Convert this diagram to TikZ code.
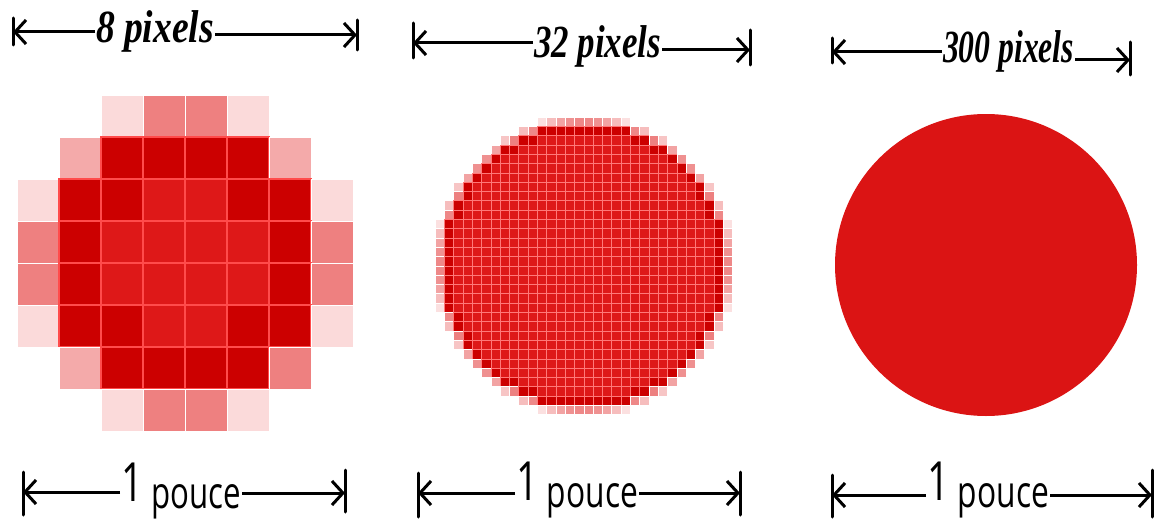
\documentclass[tikz,border=0pt]{standalone}
\usepackage{fontspec}
\usepackage{graphicx}
\usetikzlibrary{arrows.meta,calc}
\newfontfamily\handsans{Open Sans}
\newfontfamily\handserif{Liberation Serif}
\definecolor{pxD}{RGB}{204,0,0}
\definecolor{pxR}{RGB}{222,24,24}
\definecolor{pxM}{RGB}{238,128,128}
\definecolor{pxL}{RGB}{244,170,170}
\definecolor{pxV}{RGB}{251,218,218}
\definecolor{gridred}{RGB}{255,75,75}
\definecolor{gridlt}{RGB}{255,120,120}
\definecolor{circred}{RGB}{219,20,20}
\newcommand{\toplabel}[2]{\resizebox{#1}{\height}{\handserif\fontsize{46}{46}\selectfont\bfseries\itshape #2}}
\newcommand{\botlabel}[1]{\resizebox{#1}{\height}{\handsans\fontsize{44}{44}\selectfont\raisebox{7pt}{\fontsize{54}{54}\selectfont 1}\hspace{12pt}pouce}}
\begin{document}
\begin{tikzpicture}[x=1pt,y=-1pt,
  dimline/.style={line width=3pt,-{Straight Barb[length=11pt,width=24pt]}},
  barline/.style={line width=3pt,line cap=round},
  lab/.style={anchor=base west,inner sep=0pt,outer sep=1pt},
  cellW/.style={fill=white},
  cellV/.style={fill=pxV,draw=white,line width=1pt},
  cellL/.style={fill=pxL,draw=white,line width=1pt},
  cellM/.style={fill=pxM,draw=white,line width=1pt},
  cellD/.style={fill=pxD,draw=gridred,line width=1.2pt},
  cellR/.style={fill=pxR,draw=gridred,line width=1.2pt},
]
\useasboundingbox (0,0) rectangle (1162,519);

% ---------- 8 x 8 grid ----------
\foreach \r/\lst in {0/{W,W,V,M,M,V,W,W},1/{W,L,D,D,D,D,L,W},2/{V,D,D,R,R,D,D,V},3/{M,D,R,R,R,R,D,M},4/{M,D,R,R,R,R,D,M},5/{V,D,D,R,R,D,D,V},6/{W,L,D,D,D,D,M,W},7/{W,W,V,M,M,V,W,W}}{
  \foreach \cl [count=\k from 0] in \lst {
    \path[cell\cl] ({17+\k*42},{95+\r*42}) rectangle ++(42,42);
  }
}

% ---------- 32 x 32 grid ----------
\foreach \i in {0,...,31}{
  \foreach \j in {0,...,31}{
    \pgfmathsetmacro{\cov}{15.8-veclen(\i-15.5,\j-15.5)}
    \ifdim\cov pt>-0.4pt
      \ifdim\cov pt<0.45pt
        \pgfmathsetmacro{\pct}{max(10,min(55,(\cov+0.4)*60+10))}
        \path[fill=pxR!\pct!white,draw=white,line width=0.5pt] ({435+\i*9.3},{117+\j*9.3}) rectangle ++(9.3,9.3);
      \else
        \ifdim\cov pt<1.4pt
          \path[fill=pxD,draw=gridlt,line width=0.6pt] ({435+\i*9.3},{117+\j*9.3}) rectangle ++(9.3,9.3);
        \else
          \path[fill=pxR,draw=gridlt,line width=0.6pt] ({435+\i*9.3},{117+\j*9.3}) rectangle ++(9.3,9.3);
        \fi
      \fi
    \fi
  }
}

% ---------- smooth circle ----------
\fill[circred] (986,265) circle (151);

% ---------- top dimension labels ----------
\coordinate (L1) at (13,32);  \coordinate (R1) at (357,35);
\coordinate (L2) at (413,43); \coordinate (R2) at (750,50);
\coordinate (L3) at (832,52); \coordinate (R3) at (1130,60);
\node[lab] (t1) at (95,43)  {\toplabel{118pt}{8 pixels}};
\node[lab] (t2) at (533,58) {\toplabel{127pt}{32 pixels}};
\node[lab] (t3) at (942,63) {\toplabel{131pt}{300 pixels}};
\draw[dimline] (t1.west |- L1) -- (L1);
\draw[dimline] (t1.east |- R1) -- (R1);
\draw[dimline] (t2.west |- L2) -- (L2);
\draw[dimline] (t2.east |- R2) -- (R2);
\draw[dimline] (t3.west |- L3) -- (L3);
\draw[dimline] (t3.east |- R3) -- (R3);
\draw[barline] ($(L1)+(0,-14)$) -- ($(L1)+(0,13)$);
\draw[barline] ($(R1)+(0,-15)$) -- ($(R1)+(0,15)$);
\draw[barline] ($(L2)+(0,-20)$) -- ($(L2)+(0,15)$);
\draw[barline] ($(R2)+(0,-20)$) -- ($(R2)+(0,15)$);
\draw[barline] ($(L3)+(0,-14)$) -- ($(L3)+(0,11)$);
\draw[barline] ($(R3)+(0,-18)$) -- ($(R3)+(0,15)$);

% ---------- bottom dimension labels ----------
\coordinate (BL1) at (23,492);  \coordinate (BR1) at (345,493);
\coordinate (BL2) at (418,493); \coordinate (BR2) at (740,493);
\coordinate (BL3) at (832,495); \coordinate (BR3) at (1152,495);
\node[lab] (b1) at (120,508) {\botlabel{120pt}};
\node[lab] (b2) at (515,507) {\botlabel{122pt}};
\node[lab] (b3) at (926,507) {\botlabel{122pt}};
\draw[dimline] (b1.west |- BL1) -- (BL1);
\draw[dimline] (b1.east |- BR1) -- (BR1);
\draw[dimline] (b2.west |- BL2) -- (BL2);
\draw[dimline] (b2.east |- BR2) -- (BR2);
\draw[dimline] (b3.west |- BL3) -- (BL3);
\draw[dimline] (b3.east |- BR3) -- (BR3);
\draw[barline] ($(BL1)+(0,-20)$) -- ($(BL1)+(0,23)$);
\draw[barline] ($(BR1)+(0,-23)$) -- ($(BR1)+(0,19)$);
\draw[barline] ($(BL2)+(0,-20)$) -- ($(BL2)+(0,24)$);
\draw[barline] ($(BR2)+(0,-21)$) -- ($(BR2)+(0,22)$);
\draw[barline] ($(BL3)+(0,-20)$) -- ($(BL3)+(0,22)$);
\draw[barline] ($(BR3)+(0,-25)$) -- ($(BR3)+(0,22)$);
\end{tikzpicture}
\end{document}
